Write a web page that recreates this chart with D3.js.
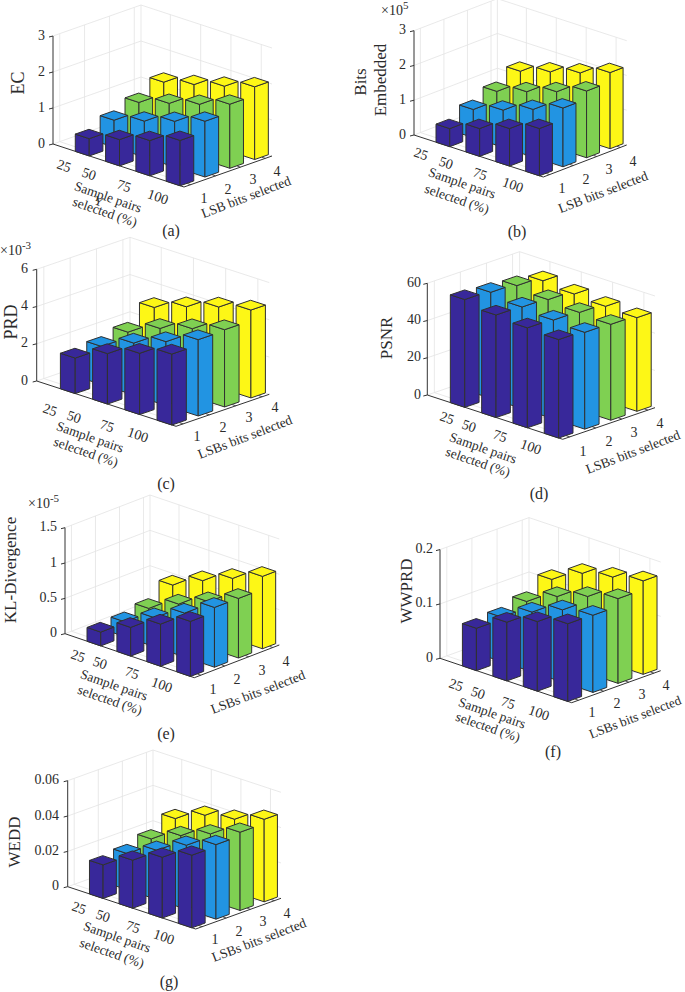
<!DOCTYPE html>
<html><head><meta charset="utf-8">
<script src="https://cdn.jsdelivr.net/npm/d3@7"></script>
<style>html,body{margin:0;padding:0;background:#fff}svg{display:block}text{font-family:"Liberation Serif",serif}</style>
</head><body><svg id="chart" width="685" height="992"></svg>
<script>
// ---- data (rows: LSB bits 1..4, columns: sample pairs 25,50,75,100) ----
const samplePairs = ["25","50","75","100"];
const lsbBits = ["1","2","3","4"];
const seriesColors = ["#38289a","#2294e2","#7fd052","#fdf716"];
const ecValues = [[0.48,0.73,0.98,1.26],[0.75,1.0,1.27,1.55],[1.0,1.25,1.5,1.78],[1.32,1.53,1.76,2.02]];
const bitsValues = [[0.52,0.80,1.08,1.36],[0.81,1.07,1.37,1.69],[1.07,1.34,1.62,1.92],[1.39,1.65,1.90,2.19]];
const prdValues = [[1.91,2.71,3.29,3.81],[2.05,2.79,3.43,4.10],[2.33,3.09,3.64,4.15],[3.17,3.77,4.32,4.72]];
const psnrValues = [[57.9,55.1,53.7,52.9],[57,54.6,53.1,52],[55.8,53.8,52.4,51.5],[53.6,52,50.9,50.3]];
const klValues = [[0.196,0.406,0.597,0.779],[0.211,0.412,0.622,0.846],[0.27,0.475,0.652,0.843],[0.469,0.675,0.851,1.024]];
const wwprdValues = [[0.078,0.108,0.128,0.143],[0.082,0.110,0.133,0.142],[0.094,0.122,0.141,0.156],[0.118,0.148,0.160,0.172]];
const weddValues = [[0.019,0.0272,0.0344,0.0411],[0.0205,0.0279,0.0363,0.0422],[0.0239,0.0313,0.0378,0.0443],[0.0305,0.0379,0.0412,0.0467]];
const ecTicks = [0,1,2,3], bitsTicks = [0,1,2,3], prdTicks = [0,2,4,6], psnrTicks = [0,20,40,60];
const klTicks = [0,0.5,1,1.5], wwprdTicks = [0,0.1,0.2], weddTicks = [0,0.02,0.04,0.06];

// ---- layout ----
const panels = [
 {v:ecValues,zt:ecTicks,L:[53,144],F:[184,187],R:[272,156],H:108,zEnd:45,
  xl:[[64,166],[89,174],[124,186],[158,197]],yl:[[204,198],[228,189],[253,179],[277,171]],
  xt:[[108,197],[105,212]],lsb:"LSB bits selected",lsbC:[246,197],cap:"(a)",capC:[171,230],
  zl:[{t:"EC",x:18,y:83,s:18}],stray:[99,201]},
 {v:bitsValues,zt:bitsTicks,L:[414,135],F:[543.3,177],R:[626.7,145],H:104.3,zEnd:406,
  xl:[[421,154],[446,163],[480,174],[513,185]],yl:[[562,188],[586,179],[609,169],[633,161]],
  xt:[[462,183],[457,199]],lsb:"LSB bits selected",lsbC:[603,192],cap:"(b)",capC:[517,231],
  zl:[{t:"Bits",x:360,y:82,s:17},{t:"Embedded",x:380,y:80,s:17}],mult:{x:381,y:10,e:"5"}},
 {v:prdValues,zt:prdTicks,L:[36.7,381],F:[176,426.3],R:[269.3,394.3],H:111.7,zEnd:28,
  xl:[[50,410],[74,417],[107,426],[138,435]],yl:[[197,436],[223,427],[249,417],[275,407]],
  xt:[[90,437],[86,452]],lsb:"LSBs bits selected",lsbC:[245,437],cap:"(c)",capC:[166,483],
  zl:[{t:"PRD",x:11,y:322,s:18}],mult:{x:0,y:250,e:"-3"}},
 {v:psnrValues,zt:psnrTicks,L:[427.3,395],F:[562.7,439.3],R:[655,407.7],H:111.7,zEnd:421,
  xl:[[447,418],[469,426],[500,436],[531,447]],yl:[[583,451],[609,441],[634,432],[660,423]],
  xt:[[483,448],[478,462]],lsb:"LSBs bits selected",lsbC:[633,452],cap:"(d)",capC:[539,493],
  zl:[{t:"PSNR",x:386,y:338,s:17}]},
 {v:klValues,zt:klTicks,L:[65,633.7],F:[194.3,677.7],R:[279.3,645],H:106,zEnd:57,
  xl:[[78,656],[100,663],[132,673],[162,685]],yl:[[213,689],[237,679],[262,670],[286,661]],
  xt:[[114,685],[110,700]],lsb:"LSBs bits selected",lsbC:[258,692],cap:"(e)",capC:[166,733],
  zl:[{t:"KL-Divergence",x:10,y:570,s:17}],mult:{x:28,y:503,e:"-5"}},
 {v:wwprdValues,zt:wwprdTicks,L:[440,658.3],F:[571.7,702.7],R:[660.7,670.7],H:108.7,zEnd:433,
  xl:[[456,685],[478,693],[508,703],[539,713]],yl:[[592,712],[617,703],[642,694],[666,685]],
  xt:[[492,713],[488,727]],lsb:"LSBs bits selected",lsbC:[635,717],lsbS:13.2,cap:"(f)",capC:[553,751],
  zl:[{t:"WWPRD",x:406,y:591,s:17}]},
 {v:weddValues,zt:weddTicks,L:[67.7,886.7],F:[195.7,929],R:[281,898.3],H:106,zEnd:59,
  xl:[[79,908],[103,916],[133,927],[164,937]],yl:[[215,939],[239,931],[263,921],[287,913]],
  xt:[[117,937],[112,953]],lsb:"LSBs bits selected",lsbC:[259,940],cap:"(g)",capC:[169,981],
  zl:[{t:"WEDD",x:14,y:842,s:17}]}
];
const xTitleLines = ["Sample pairs","selected (%)"];
const xTicksIdx = [1,2,3,4], yTicksIdx = [1,2,3,4];
const barHalfU = 0.23, barHalfV = 0.275;
const axisCol = "#333", gridCol = "#e3e3e3", textCol = "#2b2b2b", edgeCol = "#303030";

const svg = d3.select("#chart");
const line = d3.line();

panels.forEach(p => {
  const g = svg.append("g");
  const uS = d3.scaleLinear().domain([0.03,4.355]).range([0,1]);
  const vS = d3.scaleLinear().domain([0.73,4.27]).range([0,1]);
  const zMax = p.zt[p.zt.length-1];
  const zS = d3.scaleLinear().domain([0,zMax]).range([0,p.H]);
  const proj = (x,y,z) => {
    const u = uS(x), v = vS(y);
    return [p.L[0]+u*(p.F[0]-p.L[0])+v*(p.R[0]-p.F[0]),
            p.L[1]+u*(p.F[1]-p.L[1])+v*(p.R[1]-p.F[1])-zS(z)];
  };
  const [x0,x1] = uS.domain(), [y0,y1] = vS.domain();
  const seg = (a,b,col,w) => g.append("path").attr("d",line([a,b])).attr("fill","none").attr("stroke",col).attr("stroke-width",w);

  // floor grid
  xTicksIdx.forEach(x => seg(proj(x,y0,0),proj(x,y1,0),gridCol,0.8));
  yTicksIdx.forEach(y => seg(proj(x0,y,0),proj(x1,y,0),gridCol,0.8));
  // wall grids
  p.zt.forEach(z => { seg(proj(x0,y0,z),proj(x0,y1,z),gridCol,0.8); seg(proj(x0,y1,z),proj(x1,y1,z),gridCol,0.8); });
  yTicksIdx.forEach(y => seg(proj(x0,y,0),proj(x0,y,zMax),gridCol,0.8));
  xTicksIdx.forEach(x => seg(proj(x,y1,0),proj(x,y1,zMax),gridCol,0.8));
  seg(proj(x0,y1,0),proj(x0,y1,zMax),gridCol,0.8);

  // axes
  seg(proj(x0,y0,0),proj(x0,y0,zMax),axisCol,1);
  seg(proj(x0,y0,0),proj(x1,y0,0),axisCol,1);
  seg(proj(x1,y0,0),proj(x1,y1,0),axisCol,1);
  p.zt.forEach(z => { const a = proj(x0,y0,z); seg(a,[a[0]-4,a[1]+1],axisCol,1); });
  xTicksIdx.forEach(x => seg(proj(x,y0,0),proj(x,y0+0.13,0),axisCol,0.8));
  yTicksIdx.forEach(y => seg(proj(x1,y,0),proj(x1-0.11,y,0),axisCol,0.8));

  // bars, back to front
  d3.range(3,-1,-1).forEach(j => {
    d3.range(0,4).forEach(i => {
      const val = p.v[j][i], x = i+1, y = j+1;
      const poly = (pts,fill) => g.append("path").attr("d",line(pts)+"Z")
        .attr("fill",fill).attr("stroke",edgeCol).attr("stroke-width",1).attr("stroke-linejoin","round");
      const xa=x-barHalfU, xb=x+barHalfU, ya=y-barHalfV, yb=y+barHalfV;
      const c = seriesColors[j];
      poly([proj(xa,ya,val),proj(xb,ya,val),proj(xb,ya,0),proj(xa,ya,0)],c);
      poly([proj(xb,ya,val),proj(xb,yb,val),proj(xb,yb,0),proj(xb,ya,0)],c);
      poly([proj(xa,ya,val),proj(xb,ya,val),proj(xb,yb,val),proj(xa,yb,val)],c);
    });
  });

  // text
  const txt = (t,x,y,s,rot,anchor) => g.append("text").text(t)
    .attr("transform",`translate(${x},${y}) rotate(${rot||0})`)
    .attr("text-anchor",anchor||"middle").attr("dominant-baseline","central")
    .attr("font-size",s).attr("fill",textCol);
  p.zt.forEach(z => txt(String(z),p.zEnd,proj(x0,y0,z)[1]-1,14,0,"end"));
  samplePairs.forEach((s,i) => txt(s,p.xl[i][0],p.xl[i][1],14,19));
  lsbBits.forEach((s,i) => txt(s,p.yl[i][0],p.yl[i][1],14,0));
  xTitleLines.forEach((s,i) => txt(s,p.xt[i][0],p.xt[i][1],13.5,19));
  txt(p.lsb,p.lsbC[0],p.lsbC[1],p.lsbS||13.5,-21);
  txt(p.cap,p.capC[0],p.capC[1],16,0);
  p.zl.forEach(l => txt(l.t,l.x,l.y,l.s,-90));
  if (p.stray) txt("Y",p.stray[0],p.stray[1],13,19);
  if (p.mult) {
    const t = g.append("text").attr("x",p.mult.x).attr("y",p.mult.y).attr("dominant-baseline","central")
      .attr("font-size",14).attr("fill",textCol);
    t.append("tspan").text("\u00d710");
    t.append("tspan").text(p.mult.e).attr("font-size",11).attr("dy",-5);
  }
});
</script></body></html>
